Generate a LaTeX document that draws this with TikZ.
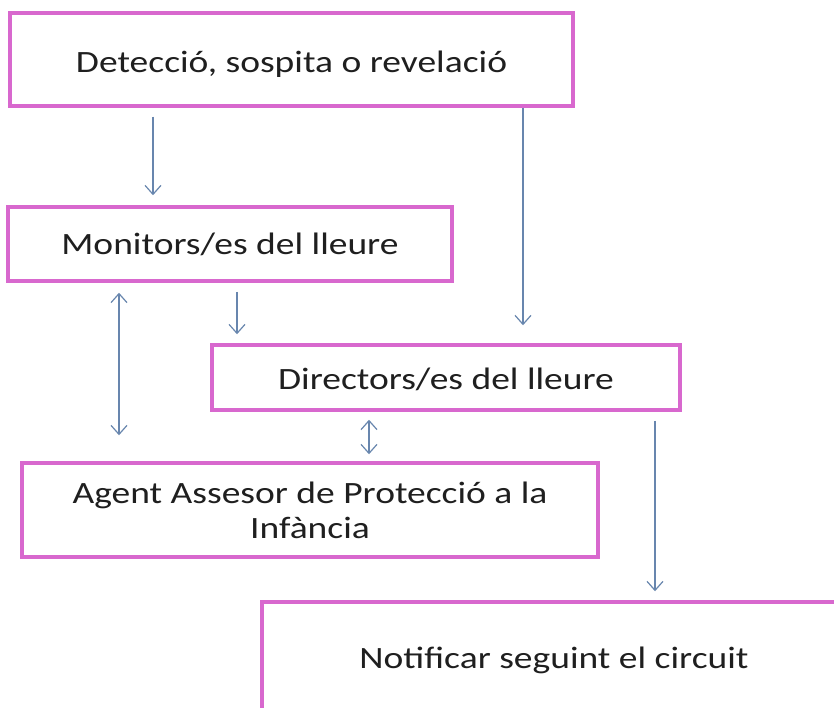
\documentclass[tikz,border=0pt]{standalone}
\usepackage{fontspec}
\setmainfont{Carlito}
\usetikzlibrary{arrows.meta}
\definecolor{boxpink}{RGB}{216,104,206}
\definecolor{arrblue}{RGB}{104,134,174}
\newcommand{\wide}[1]{\scalebox{1.21}[1]{#1}}
\newcommand{\lowr}[2]{\raisebox{-#1}[\height][\depth]{#2}}
\tikzset{
  flowbox/.style={draw=boxpink, line width=3.5pt, fill=white, inner sep=0pt, font=\fontsize{31}{35}\selectfont, text=black!88},
  arr/.style={draw=arrblue, line width=1.2pt, -{Straight Barb[length=9pt,width=16pt,line width=1.2pt]}},
  darr/.style={draw=arrblue, line width=1.2pt, {Straight Barb[length=9pt,width=16pt,line width=1.2pt]}-{Straight Barb[length=9pt,width=16pt,line width=1.2pt]}}
}
\begin{document}
\begin{tikzpicture}[x=1pt,y=-1pt]
\clip (0,0) rectangle (834,708);
\fill[white] (0,0) rectangle (834,708);
\node[flowbox, minimum width=563pt, minimum height=93pt] (det) at (291.5,59.5) {\lowr{5pt}{\wide{Detecció, sospita o revelació}}};
\node[flowbox, minimum width=444pt, minimum height=74pt] (mon) at (230,244) {\wide{Monitors/es del lleure}};
\node[flowbox, minimum width=468pt, minimum height=65pt] (dir) at (446,377.5) {\lowr{2pt}{\wide{Directors/es del lleure}}};
\node[flowbox, minimum width=576pt, minimum height=94pt, align=center] (agt) at (310,510) {\wide{Agent Assesor de Protecció a la}\\\wide{Infància}};
\node[flowbox, minimum width=640pt, minimum height=200pt] (not) at (582,702) {};
\node[font=\fontsize{31}{35}\selectfont, text=black!88] (nott) at (554,660) {\wide{Notificar seguint el circuit}};
\coordinate (xa) at (153,0);
\coordinate (xb) at (523,0);
\coordinate (xc) at (119,0);
\coordinate (xd) at (237,0);
\coordinate (xe) at (369,0);
\coordinate (xf) at (655,0);
\draw[arr, shorten <=9pt, shorten >=10pt] (det.south -| xa) -- (mon.north -| xa);
\draw[arr, shorten >=18pt] (det.south -| xb) -- (dir.north -| xb);
\draw[darr, shorten <=10pt, shorten >=26pt] (mon.south -| xc) -- (agt.north -| xc);
\draw[arr, shorten <=9pt, shorten >=9pt] (mon.south -| xd) -- (dir.north -| xd);
\draw[darr, shorten <=8pt, shorten >=7pt] (dir.south -| xe) -- (agt.north -| xe);
\draw[arr, shorten <=9pt, shorten >=9pt] (dir.south -| xf) -- (not.north -| xf);
\end{tikzpicture}
\end{document}
